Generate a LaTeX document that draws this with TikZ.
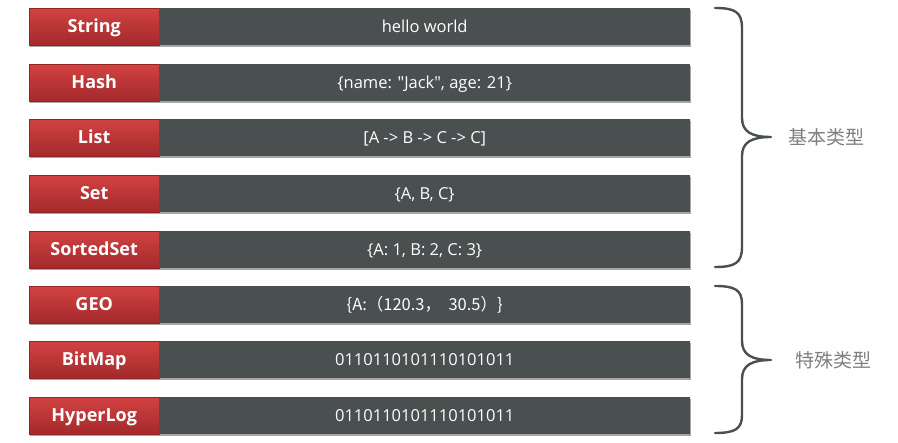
\documentclass[tikz,border=0pt]{standalone}
\usepackage{fontspec}
\setmainfont{Open Sans}[Ligatures=TeXOff]
\newfontfamily\cjk{Noto Sans CJK SC}
\usetikzlibrary{shadows}
\definecolor{redtop}{HTML}{D24242}
\definecolor{redbot}{HTML}{A3292B}
\definecolor{darkbox}{HTML}{4A4F4F}
\definecolor{bracecol}{HTML}{4A4F4F}
\definecolor{labelgray}{HTML}{7F7F7F}
\begin{document}
\begin{tikzpicture}[x=1pt,y=-1pt,
  typebox/.style={anchor=north west, minimum width=130pt, minimum height=37pt, inner sep=0pt,
    text height=14.5pt, text depth=2pt,
    top color=redtop, bottom color=redbot, draw=redbot!90!black, line width=0.4pt,
    text=white, font=\fontsize{18}{20}\selectfont\bfseries,
    drop shadow={shadow xshift=0.8pt, shadow yshift=-1.5pt, opacity=0.35, fill=black}},
  valbox/.style={anchor=north west, minimum width=531pt, minimum height=37pt, inner sep=0pt,
    text height=13pt, text depth=1pt,
    fill=darkbox, text=white, font=\fontsize{16.5}{18}\selectfont,
    drop shadow={shadow xshift=0.8pt, shadow yshift=-1.5pt, opacity=0.35, fill=black}},
  bracestyle/.style={draw=bracecol, line width=2.4pt, line cap=round, line join=round},
  grouplabel/.style={text=labelgray, font=\cjk\fontsize{19}{22}\selectfont, anchor=west}
]
\useasboundingbox (0,0) rectangle (898,443);

\node[typebox] (t1) at (29,8) {String};
\node[valbox] (v1) at (159,8) {hello world};
\node[typebox] (t2) at (29,64) {Hash};
\node[valbox] (v2) at (159,64) {\{name: "Jack", age: 21\}};
\node[typebox] (t3) at (29,119) {List};
\node[valbox] (v3) at (159,119) {[A -> B -> C -> C]};
\node[typebox] (t4) at (29,175) {Set};
\node[valbox] (v4) at (159,175) {\{A, B, C\}};
\node[typebox] (t5) at (29,231) {SortedSet};
\node[valbox] (v5) at (159,231) {\{A: 1, B: 2, C: 3\}};
\node[typebox] (t6) at (29,286) {GEO};
\node[valbox] (v6) at (159,286) {\cjk\{A:（120.3，\ \ 30.5）\}};
\node[typebox] (t7) at (29,341) {BitMap};
\node[valbox] (v7) at (159,341) {0110110101110101011};
\node[typebox] (t8) at (29,397) {HyperLog};
\node[valbox] (v8) at (159,397) {0110110101110101011};

% brace 1
\coordinate (b1top) at (715,8);
\coordinate (b1tip) at (771,137);
\coordinate (b1bot) at (715,267);
\draw[bracestyle] (b1top) .. controls (735,8) and (742,12) .. (742,28)
  -- (742,118) .. controls (742,132) and (752,137) .. (b1tip)
  .. controls (752,137) and (742,142) .. (742,156)
  -- (742,247) .. controls (742,263) and (735,267) .. (b1bot);
\node[grouplabel] (g1) at (785,137) {基本类型};

% brace 2
\coordinate (b2top) at (715,286);
\coordinate (b2tip) at (771,360);
\coordinate (b2bot) at (715,433);
\draw[bracestyle] (b2top) .. controls (735,286) and (742,290) .. (742,304)
  -- (742,341) .. controls (742,355) and (752,360) .. (b2tip)
  .. controls (752,360) and (742,365) .. (742,379)
  -- (742,415) .. controls (742,429) and (735,433) .. (b2bot);
\node[grouplabel] (g2) at (792,360) {特殊类型};
\end{tikzpicture}
\end{document}
